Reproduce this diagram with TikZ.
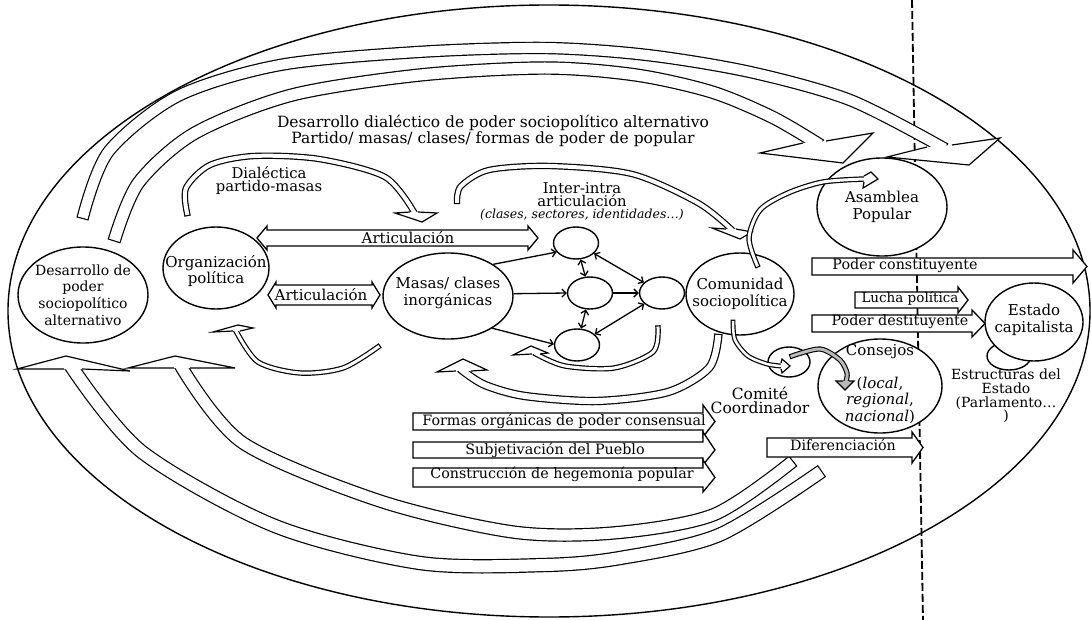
\documentclass[tikz,border=0pt]{standalone}
\usepackage{fontspec}
\setmainfont{DejaVu Serif}
\usetikzlibrary{shapes.geometric,arrows.meta,calc}

\newcommand\fR{\fontsize{15}{16.8}\selectfont}
\newcommand\fD{\fontsize{14}{16.7}\selectfont}
\newcommand\fT{\fontsize{15.5}{12.5}\selectfont}
\newcommand\fS{\fontsize{14.8}{13}\selectfont}
\newcommand\fB{\fontsize{14.3}{14}\selectfont}
\newcommand\fE{\fontsize{14}{13.7}\selectfont}
\newcommand\fC{\fontsize{15.5}{14}\selectfont}
\newcommand\fI{\fontsize{12.5}{12}\selectfont\itshape}

% right-pointing block arrow: x1, head x, tip x, shaft top, shaft bottom, head top, head bottom
\newcommand\blockR[7]{\draw[blk] (#1,#4) -- (#2,#4) -- (#2,#6) -- (#3,{(#4+#5)/2}) -- (#2,#7) -- (#2,#5) -- (#1,#5) -- cycle;}
% two-headed block arrow: x1, x2, head length, shaft top, shaft bottom, head top, head bottom
\newcommand\blockLR[7]{\draw[blk] (#1,{(#4+#5)/2}) -- ({#1+#3},#6) -- ({#1+#3},#4) -- ({#2-#3},#4) -- ({#2-#3},#6) -- (#2,{(#4+#5)/2}) -- ({#2-#3},#7) -- ({#2-#3},#5) -- ({#1+#3},#5) -- ({#1+#3},#7) -- cycle;}

\begin{document}
\begin{tikzpicture}[x=1pt,y=-1pt,
  ln/.style={line width=1.4pt},
  bub/.style={ellipse,draw,fill=white,line width=1.4pt,inner sep=0pt},
  blk/.style={draw,fill=white,line width=1.3pt,line join=miter},
  lbl/.style={inner sep=0pt,align=center,font=\fR},
  hollow/.style={draw,line width=1.2pt,double=white,double distance=#1,line cap=rect},
  hollow/.default=4pt,
  arrhead/.style={draw,fill=white,line width=1.2pt,line join=miter},
  net/.style={line width=1.3pt},
  tipA/.tip={Straight Barb[length=4pt,width=8pt]}
]
\useasboundingbox (0,0) rectangle (1091,620);
\fill[white] (0,0) rectangle (1091,620);

% enclosing ellipse and boundary of the state
\draw[ln] (549,311) ellipse [x radius=541, y radius=306];
\coordinate (dtop) at (912,0);
\coordinate (dbot) at (923,620);
\draw[line width=1.8pt, dash pattern=on 8pt off 3pt] (dtop) -- (dbot);

% large upper arcs
\draw[hollow=10pt] plot[smooth] coordinates {(84,213) (109,151) (178,96) (280,65) (418,52) (545,48) (647,55) (750,72) (850,100) (940,146)};
\filldraw[arrhead] (952,145) -- (1000,138) -- (969,165) -- (887,157) -- (927,147);
\draw[hollow=11pt] plot[smooth] coordinates {(116,235) (139,182) (195,133) (292,95) (420,75) (545,68) (636,75) (712,92) (772,117) (815,142)};
\filldraw[arrhead] (826,141) -- (873,133) -- (843,163) -- (760,153) -- (803,143);

% large lower arcs
\draw[hollow=12pt] plot[smooth] coordinates {(816,475) (719,535) (620,558) (545,565) (420,563) (275,526) (142,452) (73,369)};
\filldraw[arrhead] (64,369) -- (17,369) -- (66,356) -- (130,371) -- (82,369);
\draw[hollow=11pt] plot[smooth] coordinates {(788,465) (713,515) (613,533) (513,532) (380,501) (243,443) (182,368)};
\filldraw[arrhead] (174,368) -- (128,368) -- (175,356) -- (235,368) -- (190,368);

% inner arcs
\draw[hollow=4pt] plot[smooth] coordinates {(187,213) (186,188) (210,165) (254,156) (319,159) (385,177) (414,212)};
\filldraw[arrhead] (418,212) -- (437,213) -- (422,222) -- (395,213) -- (410,212);
\draw[hollow=4pt] plot[smooth] coordinates {(457,201) (461,186) (489,170) (550,166) (632,174) (698,203) (731,229)};
\filldraw[arrhead] (736,229) -- (752,232) -- (740,239) -- (712,228) -- (726,229);
\draw[hollow=6pt] plot[smooth] coordinates {(718,338) (709,368) (668,392) (597,401) (525,396) (485,385) (463,371)};
\filldraw[arrhead] (456,371) -- (437,372) -- (463,359) -- (487,370) -- (471,371);
\draw[hollow=3pt] plot[smooth] coordinates {(658,328) (653,352) (614,368) (565,366) (536,354)};
\filldraw[arrhead] (532,354) -- (513,355) -- (531,346) -- (548,353) -- (540,354);
\draw[hollow=3pt] plot[smooth] coordinates {(378,347) (343,368) (300,373) (258,362) (236,331)};
\filldraw[arrhead] (233,331) -- (213,332) -- (238,325) -- (253,328) -- (240,331);

% block arrows
\blockLR{257}{538}{10}{230}{246}{226}{250}
\blockLR{268}{380}{8}{285}{305}{282}{308}
\blockR{812}{1073}{1087}{258}{275}{250}{283}
\blockR{855}{958}{968}{292}{308}{287}{313}
\blockR{812}{972}{985}{315}{332}{310}{337}
\blockR{767}{912}{923}{438}{457}{432}{463}
\blockR{413}{703}{715}{413}{430}{405}{437}
\blockR{413}{703}{715}{442}{458}{432}{465}
\blockR{413}{703}{715}{468}{487}{460}{492}

% bubbles
\node[bub, minimum width=130pt, minimum height=96pt] (des) at (83,295) {};
\node[bub, minimum width=106pt, minimum height=82pt] (org) at (216,268) {};
\node[bub, minimum width=130pt, minimum height=86pt] (mas) at (448,296) {};
\node[bub, minimum width=45pt, minimum height=32pt] (c1) at (576,243) {};
\node[bub, minimum width=45pt, minimum height=32pt] (c2) at (590,293) {};
\node[bub, minimum width=45pt, minimum height=32pt] (c3) at (662,293) {};
\node[bub, minimum width=45pt, minimum height=32pt] (c4) at (577,345) {};
\node[bub, minimum width=108pt, minimum height=82pt] (com) at (740,294) {};
\node[bub, minimum width=130pt, minimum height=98pt] (asa) at (882,207) {};
\node[bub, minimum width=44pt, minimum height=28pt] (estr) at (1009,356) {};
\node[bub, minimum width=98pt, minimum height=78pt] (est) at (1034,322) {};
\node[bub, minimum width=42pt, minimum height=30pt] (comi) at (789,362) {};
\node[bub, minimum width=124pt, minimum height=94pt] (con) at (880,386) {};

% arcs leaving the community and the committee
\draw[hollow=3pt] plot[smooth] coordinates {(757,265) (749,238) (760,210) (788,193) (823,182) (864,179)};
\filldraw[arrhead] (864,176) -- (871,172) -- (878,179) -- (863,188) -- (864,182);
\draw[hollow=2.5pt] plot[smooth] coordinates {(733,322) (735,340) (748,356) (767,364) (781,366)};
\filldraw[arrhead] (781,363) -- (782,359) -- (790,366) -- (782,373) -- (781,369);
\draw[draw,line width=1.1pt,double=gray!55,double distance=3pt,line cap=rect] plot[smooth] coordinates {(792,356) (820,349) (840,360) (847,373) (846,381)};
\filldraw[arrhead,fill=gray!55] (843,381) -- (836,381) -- (845,390) -- (854,381) -- (849,381);

% network of classes, sectors and identities
\draw[net,-tipA] (mas.35) -- (c1.205);
\draw[net,-tipA] (mas.2) -- (c2.west);
\draw[net,-tipA] (mas.-36) -- (c4.178);
\draw[net,tipA-tipA] (c1) -- (c2);
\draw[net,tipA-tipA] (c2) -- (c4);
\draw[net,tipA-tipA] (c1) -- (c3);
\draw[net,-tipA] (c2) -- (c3);
\draw[net,tipA-tipA] (c4) -- (c3);

% texts
\node[lbl,font=\fT] (title) at (493,131) {Desarrollo dialéctico de poder sociopolítico alternativo\\Partido/ masas/ clases/ formas de poder de popular};
\node[lbl,font=\fS] (dial) at (269,181) {Dialéctica\\partido-masas};
\node[lbl,font=\fS] (inter) at (582,195) {Inter-intra\\articulación};
\node[lbl,font=\fI] (inter2) at (582,215) {(clases, sectores, identidades…)};
\node[lbl,font=\fD] at (des) {Desarrollo de\\poder\\sociopolítico\\alternativo};
\node[lbl] at ([yshift=-3pt]org) {Organización\\política};
\node[lbl] at ([yshift=3pt]mas) {Masas/ clases\\inorgánicas};
\node[lbl] at (com) {Comunidad\\sociopolítica};
\node[lbl] at (asa) {Asamblea\\Popular};
\node[lbl] at ([yshift=2pt]est) {Estado\\capitalista};
\node[lbl] at ([yshift=2pt]con) {Consejos\\[16pt](\textit{local},\\\textit{regional},\\\textit{nacional})};
\node[lbl,font=\fC] (comt) at (760,400) {Comité\\Coordinador};
\node[lbl,font=\fE] (estrt) at (1006,396) {Estructuras del\\Estado\\(Parlamento…\\)};
\node[lbl] (art1) at (408,238) {Articulación};
\node[lbl] (art2) at (321,295) {Articulación};
\node[lbl,font=\fB] (pc) at (905,266) {Poder constituyente};
\node[lbl,font=\fontsize{13.5}{14}\selectfont] (lp) at (910,299) {Lucha política};
\node[lbl,font=\fB] (pd) at (900,322) {Poder destituyente};
\node[lbl,font=\fB] (dif) at (843,445) {Diferenciación};
\node[lbl,font=\fB] (fo) at (564,421) {Formas orgánicas de poder consensual};
\node[lbl,font=\fB] (sp) at (555,450) {Subjetivación del Pueblo};
\node[lbl,font=\fB] (ch) at (562,474) {Construcción de hegemonía popular};
\end{tikzpicture}
\end{document}
